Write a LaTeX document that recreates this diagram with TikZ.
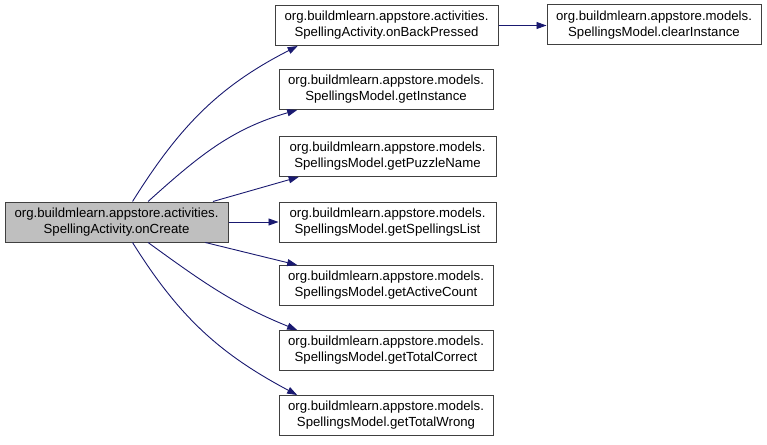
\documentclass[tikz,border=0pt]{standalone}
\usepackage{fontspec}
\setmainfont{Liberation Sans}
\usetikzlibrary{arrows.meta}
\definecolor{cgedge}{HTML}{191970}
\definecolor{cgfill}{HTML}{BFBFBF}
\definecolor{cgline}{HTML}{404040}

\begin{document}
\begin{tikzpicture}[x=1pt, y=1pt, every node/.style={font=\fontsize{13.2}{16}\selectfont},
    func/.style={rectangle, draw=cgline, line width=1pt, fill=white, minimum height=40pt, inner sep=0pt, align=center},
    call/.style={draw=cgedge, line width=0.9pt, -{Triangle[length=10pt, width=7pt]}}]
    \useasboundingbox (0,0) rectangle (767,-444);

    % Caller
    \node[func, fill=cgfill, minimum width=223pt] (create) at (116.5,-222)
        {org.buildmlearn.appstore.activities.\\SpellingActivity.onCreate};

    % Callees
    \node[func, minimum width=223pt] (backpressed) at (386.5,-25.5)
        {org.buildmlearn.appstore.activities.\\SpellingActivity.onBackPressed};
    \node[func, minimum width=214pt] (getinstance) at (386,-89.5)
        {org.buildmlearn.appstore.models.\\SpellingsModel.getInstance};
    \node[func, minimum width=217pt] (puzzlename) at (387.5,-156.5)
        {org.buildmlearn.appstore.models.\\SpellingsModel.getPuzzleName};
    \node[func, minimum width=217pt] (spellingslist) at (387.5,-222)
        {org.buildmlearn.appstore.models.\\SpellingsModel.getSpellingsList};
    \node[func, minimum width=214pt] (activecount) at (386,-285.5)
        {org.buildmlearn.appstore.models.\\SpellingsModel.getActiveCount};
    \node[func, minimum width=214pt] (totalcorrect) at (386,-350.5)
        {org.buildmlearn.appstore.models.\\SpellingsModel.getTotalCorrect};
    \node[func, minimum width=214pt] (totalwrong) at (386,-415.5)
        {org.buildmlearn.appstore.models.\\SpellingsModel.getTotalWrong};
    \node[func, minimum width=214pt] (clearinstance) at (654,-25)
        {org.buildmlearn.appstore.models.\\SpellingsModel.clearInstance};

    % Calls
    \draw[call] (create.52) to[out=58, in=207] (backpressed.193);
    \draw[call] (create.33) to[out=42, in=196] (getinstance.193);
    \draw[call] (create.12.5) -- (puzzlename.193);
    \draw[call] (create.east) -- (create.east -| spellingslist.west);
    \draw[call] (create.-13.5) -- (activecount.167);
    \draw[call] (create.-33) to[out=-36, in=158] (totalcorrect.167);
    \draw[call] (create.-52) to[out=-58, in=152] (totalwrong.167);
    \draw[call] (backpressed.east) -- (backpressed.east -| clearinstance.west);
\end{tikzpicture}
\end{document}
